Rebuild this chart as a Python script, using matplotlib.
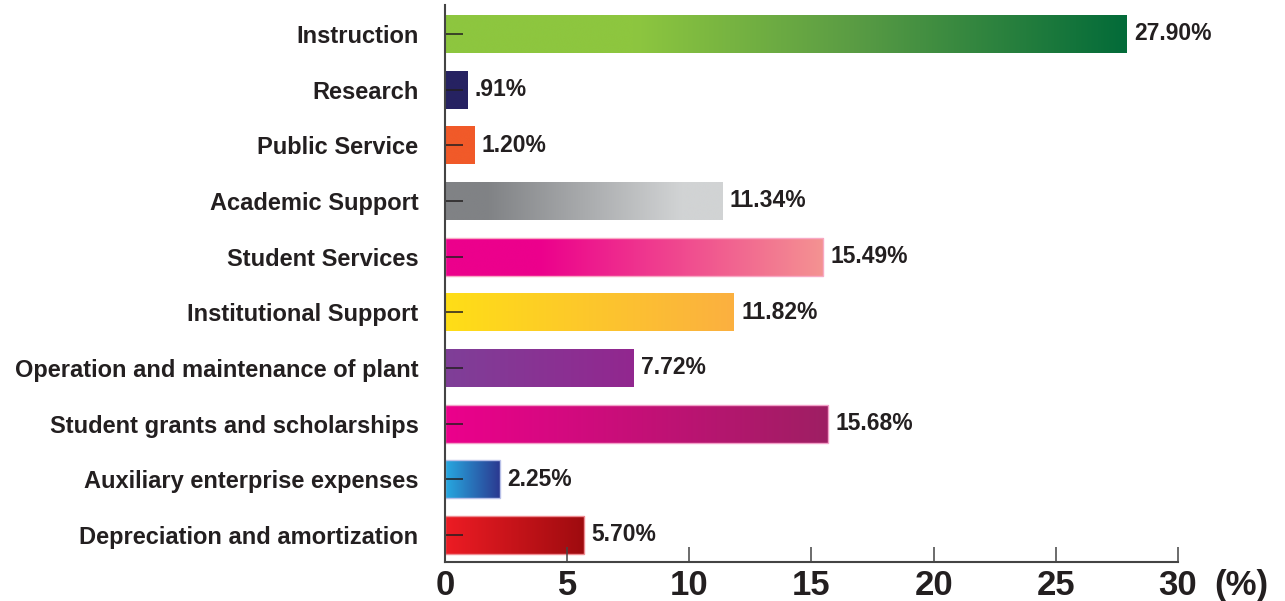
import numpy as np
import matplotlib
matplotlib.use('Agg')
import matplotlib.pyplot as plt
from matplotlib.colors import LinearSegmentedColormap

plt.rcParams['font.family'] = ['Liberation Sans', 'DejaVu Sans']
plt.rcParams['font.weight'] = 'bold'

categories = ['Instruction', 'Research', 'Public Service', 'Academic Support',
              'Student Services', 'Institutional Support',
              'Operation and maintenance of plant', 'Student grants and scholarships',
              'Auxiliary enterprise expenses', 'Depreciation and amortization']
values = [27.90, 0.91, 1.20, 11.34, 15.49, 11.82, 7.72, 15.68, 2.25, 5.70]
labels = ['27.90%', '.91%', '1.20%', '11.34%', '15.49%', '11.82%', '7.72%',
          '15.68%', '2.25%', '5.70%']
xticks = [0, 5, 10, 15, 20, 25, 30]

# gradient stops for each bar (position, colour)
grads = [
    [(0, '#8dc63f'), (0.28, '#8dc63f'), (0.6, '#5a9c44'), (1, '#036b39')],
    [(0, '#262262'), (1, '#262262')],
    [(0, '#f15a29'), (1, '#f15a29')],
    [(0, '#808285'), (0.15, '#808285'), (0.85, '#d1d3d4'), (1, '#d1d3d4')],
    [(0, '#ec008c'), (0.25, '#ec008c'), (1, '#f49392')],
    [(0, '#ffde17'), (1, '#fbb040')],
    [(0, '#7f3f98'), (1, '#92278f')],
    [(0, '#ec008c'), (1, '#9e1f63')],
    [(0, '#27aae1'), (1, '#2b3990')],
    [(0, '#ed1c24'), (1, '#9e0b0f')],
]
edges = [None, None, None, None, '#f8a9c4', None, None, '#f2a0c8', '#b8c0e8', '#ef8d93']

dark = '#231f20'

fig = plt.figure(figsize=(12.85, 6.01), dpi=100)
ax = fig.add_axes([0.3463, 0.0649, 0.5704, 0.9268])

y = np.arange(len(categories))
h = 0.68
bars = ax.barh(y, values, height=h, color='none', edgecolor='none', zorder=1)

grad = np.linspace(0, 1, 256).reshape(1, -1)
for i, b in enumerate(bars):
    cmap = LinearSegmentedColormap.from_list('g%d' % i, grads[i])
    im = ax.imshow(grad, cmap=cmap, aspect='auto', interpolation='bicubic',
                   extent=(0, values[i], y[i] + h / 2, y[i] - h / 2), zorder=0.5)
    im.set_clip_path(b)
    if edges[i]:
        b.set_edgecolor(edges[i])
        b.set_linewidth(1.0)
    ax.text(values[i] + 0.3, y[i], labels[i], va='center', ha='left',
            fontsize=16.5, fontweight='bold', color=dark)

ax.set_xlim(0, 30)
ax.set_ylim(9.485, -0.52)
ax.set_aspect('auto')
ax.set_yticks(y)
ax.set_yticklabels(categories, fontsize=17, fontweight='bold', color=dark)
ax.set_xticks(xticks)
ax.set_xticklabels([str(t) for t in xticks], fontsize=25, fontweight='bold', color=dark)
ax.tick_params(axis='y', direction='in', length=13, width=1.1, color=dark, pad=19)
ax.tick_params(axis='x', direction='in', length=11, width=1.1, color='#444444', pad=5)

for s in ['top', 'right']:
    ax.spines[s].set_visible(False)
for s in ['left', 'bottom']:
    ax.spines[s].set_color('#444444')
    ax.spines[s].set_linewidth(1.5)

ax.annotate('(%)', xy=(32.6, 0), xycoords=('data', 'axes fraction'),
            xytext=(0, -5), textcoords='offset points', fontsize=25,
            fontweight='bold', color=dark, ha='center', va='top',
            annotation_clip=False)

fig.savefig('out.png', dpi=100)
